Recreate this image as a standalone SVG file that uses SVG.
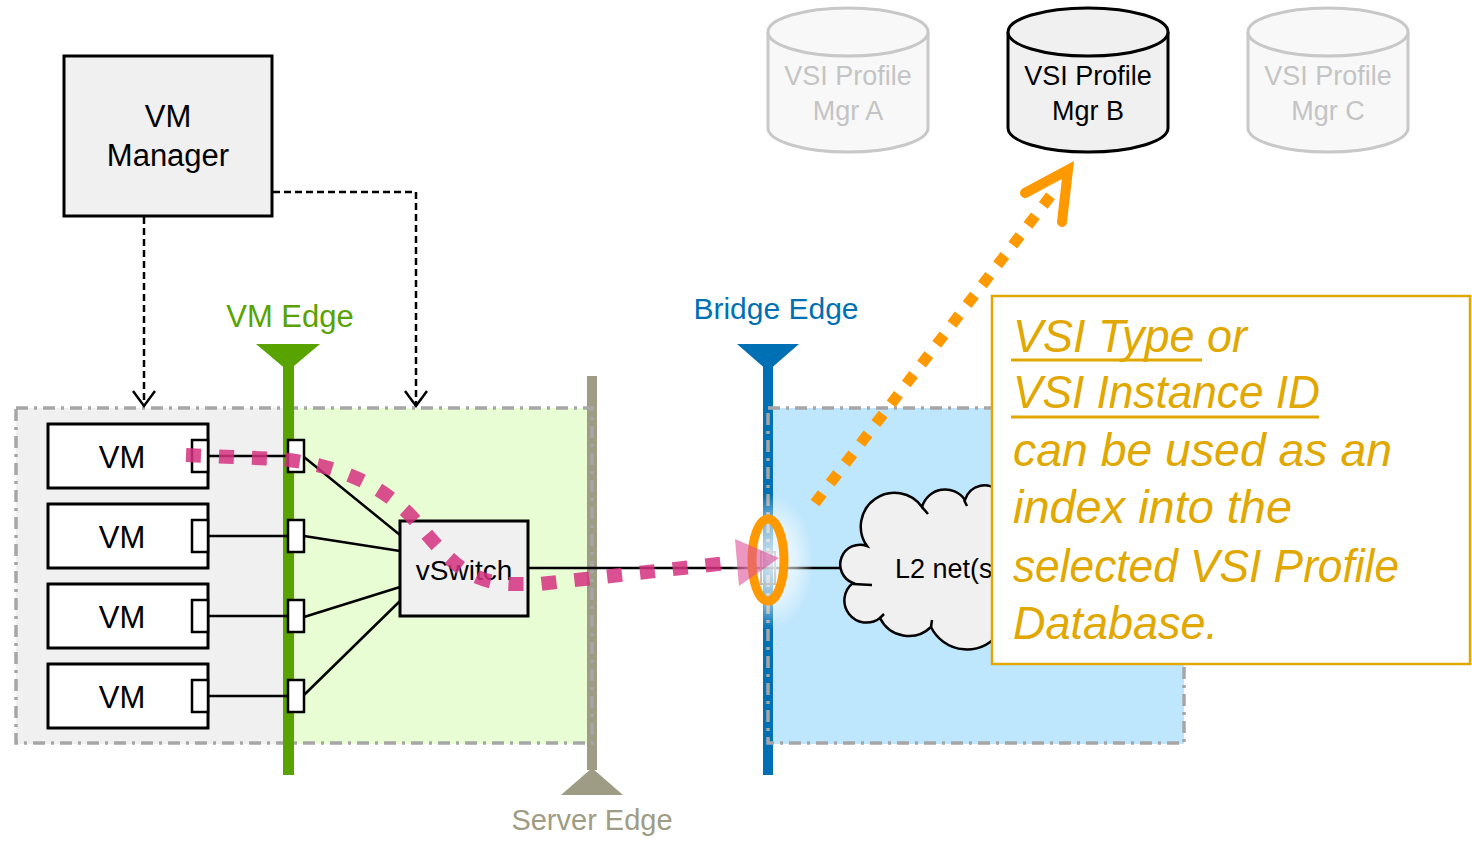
<svg xmlns="http://www.w3.org/2000/svg" width="1472" height="841" viewBox="0 0 1472 841">
<defs>
<style>
text{font-family:"Liberation Sans",Arial,sans-serif;}
.box{fill:#f0f0f0;stroke:#000;stroke-width:3;}
.vm{fill:#fff;stroke:#000;stroke-width:3;}
.port{fill:#fff;stroke:#000;stroke-width:2.5;}
.wire{stroke:#000;stroke-width:2.5;fill:none;}
.dash{stroke:#000;stroke-width:2.5;fill:none;stroke-dasharray:7 4;}
.zone{fill:none;stroke:#a6a6a6;stroke-width:3.5;stroke-dasharray:12 6 3 6;}
.gold{fill:#e0a800;font-style:italic;font-size:46px;}
.cylA{fill:#f8f8f8;stroke:#c8c8c8;stroke-width:3;}
.cylB{fill:#f0f0f0;stroke:#000;stroke-width:3;}
</style>
<radialGradient id="glow" cx="0.5" cy="0.5" r="0.5">
<stop offset="0" stop-color="#ffffff" stop-opacity="0.85"/>
<stop offset="0.6" stop-color="#ffffff" stop-opacity="0.5"/>
<stop offset="1" stop-color="#ffffff" stop-opacity="0"/>
</radialGradient>
<marker id="openArrow" markerWidth="24" markerHeight="26" refX="17" refY="12" orient="auto" markerUnits="userSpaceOnUse" viewBox="0 0 24 26">
<path d="M2,1 L17,12 L2,23" fill="none" stroke="#000" stroke-width="2.5"/>
</marker>
</defs>

<g id="zones">
<rect x="16" y="408" width="272" height="336" fill="#f0f0f0"/>
<rect x="288" y="408" width="304" height="336" fill="#e9fdd5"/>
<rect x="768" y="408" width="416" height="336" fill="#bee6fc"/>
</g>

<g id="server-edge">
<rect x="587" y="376" width="10" height="394" fill="#9e9c84"/>
<polygon points="561,795 623,795 592,768" fill="#9e9c84"/>
<text x="592" y="830" font-size="29" fill="#9e9c84" text-anchor="middle">Server Edge</text>
</g>
<g id="bridge-edge">
<rect x="763" y="366" width="10" height="409" fill="#0070b4"/>
<polygon points="737,344 799,344 768,371" fill="#0070b4"/>
<text x="776" y="319" font-size="30" fill="#0070b4" text-anchor="middle">Bridge Edge</text>
</g>

<g id="zone-borders">
<rect x="16" y="408" width="576" height="335" class="zone"/>
<rect x="768" y="408" width="416" height="335" class="zone"/>
</g>

<g id="vm-edge">
<rect x="283" y="366" width="11" height="409" fill="#58a300"/>
<polygon points="256,344 320,344 288,371" fill="#58a300"/>
<text x="290" y="327" font-size="31" fill="#58a300" text-anchor="middle">VM Edge</text>
</g>

<g id="connectors">
<path class="dash" d="M144,217 L144,406" marker-end="url(#openArrow)"/>
<path class="dash" d="M273,192 L416,192 L416,406" marker-end="url(#openArrow)"/>
<line class="wire" x1="208" y1="456" x2="288" y2="456"/>
<line class="wire" x1="208" y1="536" x2="288" y2="536"/>
<line class="wire" x1="208" y1="616" x2="288" y2="616"/>
<line class="wire" x1="208" y1="696" x2="288" y2="696"/>
<line class="wire" x1="304" y1="457" x2="400" y2="535"/>
<line class="wire" x1="304" y1="536" x2="400" y2="551"/>
<line class="wire" x1="304" y1="617" x2="400" y2="587"/>
<line class="wire" x1="304" y1="695" x2="400" y2="601"/>
<line class="wire" x1="528" y1="568" x2="850" y2="568"/>
</g>

<g id="vm-manager">
<rect x="64" y="56" width="208" height="160" class="box"/>
<text x="168" y="127" font-size="31" text-anchor="middle">VM</text>
<text x="168" y="166" font-size="31" text-anchor="middle">Manager</text>
</g>

<g id="vm1">
<rect x="48" y="424" width="160" height="64" class="vm"/>
<rect x="192" y="440" width="16" height="32" class="port"/>
<text x="122" y="468" font-size="31" text-anchor="middle">VM</text>
</g>
<g id="vm2">
<rect x="48" y="504" width="160" height="64" class="vm"/>
<rect x="192" y="520" width="16" height="32" class="port"/>
<text x="122" y="548" font-size="31" text-anchor="middle">VM</text>
</g>
<g id="vm3">
<rect x="48" y="584" width="160" height="64" class="vm"/>
<rect x="192" y="600" width="16" height="32" class="port"/>
<text x="122" y="628" font-size="31" text-anchor="middle">VM</text>
</g>
<g id="vm4">
<rect x="48" y="664" width="160" height="64" class="vm"/>
<rect x="192" y="680" width="16" height="32" class="port"/>
<text x="122" y="708" font-size="31" text-anchor="middle">VM</text>
</g>

<g id="edge-ports">
<rect x="288" y="440" width="16" height="32" class="port"/>
<rect x="288" y="520" width="16" height="32" class="port"/>
<rect x="288" y="600" width="16" height="32" class="port"/>
<rect x="288" y="680" width="16" height="32" class="port"/>
</g>

<g id="vswitch">
<rect x="400" y="521" width="128" height="95" class="box"/>
<text x="464" y="580" font-size="28" text-anchor="middle">vSwitch</text>
</g>

<g id="l2net">
<path d="M853,583 A19 19 0 0 1 867,546 A30 30 0 0 1 922,507 A24 24 0 0 1 965,500 A20 20 0 0 1 1000,493 L1000,632 A40 40 0 0 1 931,627 A32 32 0 0 1 880,618 A22 22 0 0 1 853,583 Z" fill="#f0f0f0" stroke="#000" stroke-width="2.5"/>
<path d="M853,584 L872,585 M922,507 L928,514 M964,500 L967,506 M880,618 L884,614 M931,627 L932,620" stroke="#000" stroke-width="2.5" fill="none"/>
<text x="895" y="578" font-size="27">L2 net(s)</text>
</g>

<g id="bridge-port">
<rect x="761" y="552" width="14" height="32" fill="none" stroke="#555" stroke-width="2"/>
<ellipse cx="772" cy="562" rx="42" ry="68" fill="url(#glow)"/>
<ellipse cx="768" cy="560" rx="16" ry="41" fill="none" stroke="#ff9900" stroke-width="9"/>
</g>

<g id="data-path">
<path d="M186,455 L280,459 C340,465 380,485 410,515 C440,548 460,582 510,584 L540,584 L736,562" fill="none" stroke="#d4317f" stroke-opacity="0.85" stroke-width="14" stroke-dasharray="15 18"/>
<polygon points="735,539 779,558 739,586" fill="#e0509a" fill-opacity="0.6"/>
</g>

<g id="lookup-arrow">
<path d="M815,503 L1052,194" fill="none" stroke="#ff9900" stroke-width="11" stroke-dasharray="12 13"/>
<polyline points="1025,193 1068,170 1062,222" fill="none" stroke="#ff9900" stroke-width="10" stroke-linecap="round" stroke-linejoin="miter"/>
</g>

<g id="callout">
<rect x="992" y="296" width="478" height="368" fill="#fff" stroke="#e0a800" stroke-width="2.5"/>
<text x="1013" y="352" class="gold" textLength="234" lengthAdjust="spacingAndGlyphs">VSI Type or</text>
<text x="1013" y="408" class="gold" textLength="307" lengthAdjust="spacingAndGlyphs">VSI Instance ID</text>
<text x="1013" y="466" class="gold" textLength="379" lengthAdjust="spacingAndGlyphs">can be used as an</text>
<text x="1013" y="523" class="gold" textLength="279" lengthAdjust="spacingAndGlyphs">index into the</text>
<text x="1013" y="582" class="gold" textLength="386" lengthAdjust="spacingAndGlyphs">selected VSI Profile</text>
<text x="1013" y="639" class="gold" textLength="205" lengthAdjust="spacingAndGlyphs">Database.</text>
<line x1="1011" y1="360" x2="1202" y2="360" stroke="#e0a800" stroke-width="3"/>
<line x1="1011" y1="417" x2="1319" y2="417" stroke="#e0a800" stroke-width="3"/>
</g>

<g id="mgr-a">
<path d="M768,32 A80,24 0 0 1 928,32 L928,128 A80,24 0 0 1 768,128 Z" class="cylA"/>
<path d="M768,32 A80,24 0 0 0 928,32" class="cylA" fill="none"/>
<text x="848" y="85" font-size="27" fill="#c4c4c4" text-anchor="middle">VSI Profile</text>
<text x="848" y="120" font-size="27" fill="#c4c4c4" text-anchor="middle">Mgr A</text>
</g>
<g id="mgr-b">
<path d="M1008,32 A80,24 0 0 1 1168,32 L1168,128 A80,24 0 0 1 1008,128 Z" class="cylB"/>
<path d="M1008,32 A80,24 0 0 0 1168,32" class="cylB" fill="none"/>
<text x="1088" y="85" font-size="27" fill="#000" text-anchor="middle">VSI Profile</text>
<text x="1088" y="120" font-size="27" fill="#000" text-anchor="middle">Mgr B</text>
</g>
<g id="mgr-c">
<path d="M1248,32 A80,24 0 0 1 1408,32 L1408,128 A80,24 0 0 1 1248,128 Z" class="cylA"/>
<path d="M1248,32 A80,24 0 0 0 1408,32" class="cylA" fill="none"/>
<text x="1328" y="85" font-size="27" fill="#c4c4c4" text-anchor="middle">VSI Profile</text>
<text x="1328" y="120" font-size="27" fill="#c4c4c4" text-anchor="middle">Mgr C</text>
</g>
</svg>
